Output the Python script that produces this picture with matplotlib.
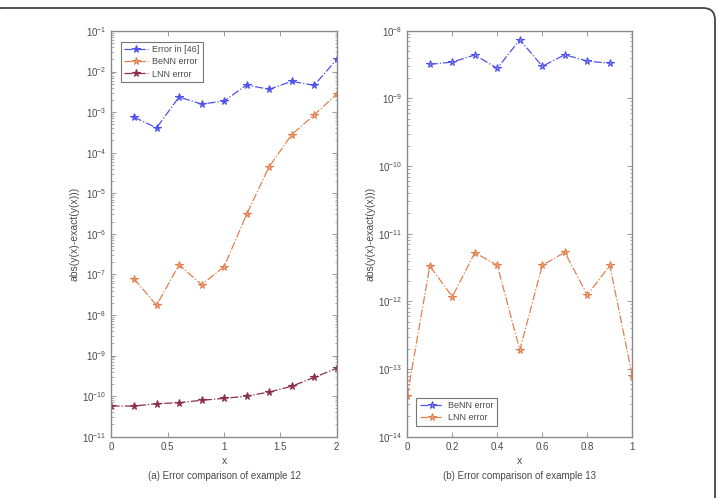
import numpy as np
import matplotlib
matplotlib.use("Agg")
import matplotlib.pyplot as plt
from matplotlib.patches import FancyBboxPatch
from matplotlib.transforms import IdentityTransform
from matplotlib.ticker import LogLocator, FixedLocator, NullFormatter

plt.rcParams['font.family'] = ['Liberation Sans', 'DejaVu Sans']
plt.rcParams['mathtext.default'] = 'regular'

# ---- Data: panel (a), example 12 ----
x_a46 = [0.2, 0.4, 0.6, 0.8, 1.0, 1.2, 1.4, 1.6, 1.8, 2.0]
err46 = [7.5e-4, 4.1e-4, 2.36e-3, 1.58e-3, 1.88e-3, 4.67e-3, 3.66e-3, 5.75e-3, 4.57e-3, 2.0e-2]
x_abenn = [0.2, 0.4, 0.6, 0.8, 1.0, 1.2, 1.4, 1.6, 1.8, 2.0]
benn_a = [7.85e-8, 1.73e-8, 1.74e-7, 5.6e-8, 1.55e-7, 3.03e-6, 4.5e-5, 2.78e-4, 8.5e-4, 2.8e-3]
x_alnn = [0.0, 0.2, 0.4, 0.6, 0.8, 1.0, 1.2, 1.4, 1.6, 1.8, 2.0]
lnn_a = [5.7e-11, 5.7e-11, 6.5e-11, 6.9e-11, 7.9e-11, 8.8e-11, 1.0e-10, 1.26e-10, 1.75e-10, 2.9e-10, 4.85e-10]

# ---- Data: panel (b), example 13 ----
x_bbenn = [0.1, 0.2, 0.3, 0.4, 0.5, 0.6, 0.7, 0.8, 0.9]
benn_b = [3.18e-9, 3.44e-9, 4.38e-9, 2.78e-9, 7.36e-9, 2.98e-9, 4.41e-9, 3.56e-9, 3.3e-9]
x_blnn = [0.0, 0.1, 0.2, 0.3, 0.4, 0.5, 0.6, 0.7, 0.8, 0.9, 1.0]
lnn_b = [4.04e-14, 3.33e-12, 1.17e-12, 5.25e-12, 3.41e-12, 1.91e-13, 3.41e-12, 5.3e-12, 1.24e-12, 3.41e-12, 7.9e-14]

xt_a = [0, 0.5, 1, 1.5, 2]
xtl_a = ["0", "0.5", "1", "1.5", "2"]
xt_b = [0, 0.2, 0.4, 0.6, 0.8, 1]
xtl_b = ["0", "0.2", "0.4", "0.6", "0.8", "1"]

BLUE = "#5252ee"
ORANGE = "#e2804e"
DARKRED = "#8c2f4f"
GRAY_AX = "#8a8a8a"
GRAY_TXT = "#4a4a4a"

W, H = 717, 498
fig = plt.figure(figsize=(W / 100, H / 100), dpi=100)

# rounded frame (only top and right visible)
frame = FancyBboxPatch((-10, -30), 715 + 10, 490 + 30,
                       boxstyle="round,pad=0,rounding_size=12",
                       transform=IdentityTransform(), fill=False,
                       edgecolor="#444444", linewidth=1.3)
fig.patches.append(frame)

def px_axes(l, r, t, b):
    return [l / W, 1 - b / H, (r - l) / W, (b - t) / H]

axA = fig.add_axes(px_axes(111.5, 336.7, 31, 436.7))
axB = fig.add_axes(px_axes(407.3, 632.3, 30.7, 436.7))

mk = dict(marker='*', markersize=5.5, markeredgewidth=0.8, linewidth=0.9, linestyle='-.')

axA.plot(x_a46, err46, color=BLUE, markerfacecolor=BLUE, markeredgecolor=BLUE,
         label="Error in [46]", **mk)
axA.plot(x_abenn, benn_a, color=ORANGE, markerfacecolor="#f2b898", markeredgecolor=ORANGE,
         label="BeNN error", **mk)
axA.plot(x_alnn, lnn_a, color=DARKRED, markerfacecolor=DARKRED, markeredgecolor=DARKRED,
         label="LNN error", **mk)

axB.plot(x_bbenn, benn_b, color=BLUE, markerfacecolor="#9a9af5", markeredgecolor=BLUE,
         label="BeNN error", **mk)
axB.plot(x_blnn, lnn_b, color=ORANGE, markerfacecolor="#f2b898", markeredgecolor=ORANGE,
         label="LNN error", **mk)

def style(ax, xlim, ylim, xt, xtl, decades):
    ax.set_yscale('log')
    ax.set_xlim(*xlim)
    ax.set_ylim(*ylim)
    ax.set_xticks(xt)
    ax.set_xticklabels(xtl)
    ax.yaxis.set_major_locator(FixedLocator([10.0 ** d for d in decades]))
    ax.set_yticklabels([r"$10^{%d}$" % d for d in decades])
    ax.yaxis.set_minor_locator(LogLocator(base=10, subs=np.arange(2, 10), numticks=50))
    ax.yaxis.set_minor_formatter(NullFormatter())
    ax.tick_params(which='both', direction='in', top=True, right=True,
                   color=GRAY_AX, labelcolor=GRAY_TXT, labelsize=7)
    ax.tick_params(which='major', length=3.5, width=0.6)
    ax.tick_params(which='minor', length=1.8, width=0.5)
    ax.tick_params(axis='x', pad=4)
    for s in ax.spines.values():
        s.set_color(GRAY_AX)
        s.set_linewidth(1.0)
    ax.set_xlabel("x", color=GRAY_TXT, fontsize=7.5, labelpad=3)
    ax.set_ylabel("abs(y(x)-exact(y(x)))", color=GRAY_TXT, fontsize=7.5, labelpad=2)

style(axA, (0, 2), (1e-11, 1e-1), xt_a, xtl_a, list(range(-11, 0)))
style(axB, (0, 1), (1e-14, 1e-8), xt_b, xtl_b, list(range(-14, -7)))

legkw = dict(fontsize=6.5, frameon=True, fancybox=False, handlelength=2.6,
             borderpad=0.4, labelspacing=0.35, handletextpad=0.5)
lA = axA.legend(loc='upper left', bbox_to_anchor=(0.02, 0.985), **legkw)
lB = axB.legend(loc='lower left', bbox_to_anchor=(0.02, 0.015), **legkw)
for lg in (lA, lB):
    lg.get_frame().set_edgecolor("#555555")
    lg.get_frame().set_linewidth(0.8)
    for t in lg.get_texts():
        t.set_color(GRAY_TXT)

fig.text((111.5 + 336.7) / 2 / W, 1 - 476 / H, "(a) Error comparison of example 12",
         ha='center', va='center', fontsize=7, color=GRAY_TXT)
fig.text((407.3 + 632.3) / 2 / W, 1 - 476 / H, "(b) Error comparison of example 13",
         ha='center', va='center', fontsize=7, color=GRAY_TXT)

fig.savefig("out.png", dpi=100)
